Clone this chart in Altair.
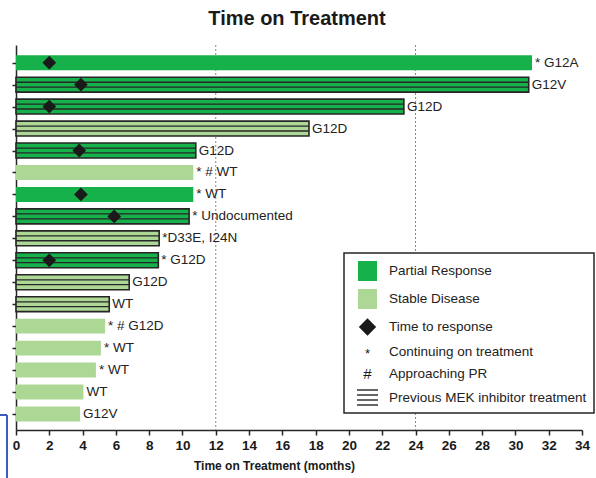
import altair as alt
import pandas as pd

# Patients, top to bottom
patient_row = list(range(17))
months_on_treatment = [31.0, 30.8, 23.3, 17.6, 10.8, 10.65, 10.65, 10.4, 8.6,
                       8.55, 6.8, 5.6, 5.35, 5.1, 4.8, 4.05, 3.85]
best_response = ["PR", "PR", "PR", "SD", "PR", "SD", "PR", "PR", "SD",
                 "PR", "SD", "SD", "SD", "SD", "SD", "SD", "SD"]
previous_mek = [False, True, True, True, True, False, False, True, True,
                True, True, True, False, False, False, False, False]
time_to_response = [2.0, 3.9, 2.0, None, 3.8, None, 3.9, 5.9, None,
                    2.0, None, None, None, None, None, None, None]
bar_labels = ["* G12A", "G12V", "G12D", "G12D", "G12D", "* # WT", "* WT",
              "* Undocumented", "*D33E, I24N", "* G12D", "G12D", "WT",
              "* # G12D", "* WT", "* WT", "WT", "G12V"]
x_ticks = list(range(0, 35, 2))
reference_months = [12, 24]

chart_title = "Time on Treatment"
legend_labels = ["Partial Response", "Stable Disease", "Time to response",
                 "Continuing on treatment", "Approaching PR",
                 "Previous MEK inhibitor treatment"]

PR_GREEN = "#17b14c"
SD_GREEN = "#acd795"
DARK = "#262626"
FONT = "Liberation Sans"

df = pd.DataFrame({
    "row": patient_row,
    "months": months_on_treatment,
    "response": best_response,
    "mek": previous_mek,
    "ttr": time_to_response,
    "label": bar_labels,
})

HALF = 0.34
x_scale = alt.Scale(domain=[0, 34], nice=False, zero=True)
y_scale = alt.Scale(domain=[-0.806, 16.73], nice=False, zero=False, reverse=True)

x_axis = alt.Axis(values=x_ticks, tickCount=len(x_ticks), grid=False,
                  title="Time on Treatment (months)",
                  labelFont=FONT, labelFontWeight="bold", labelFontSize=13.5,
                  labelColor="#1a1a1a", labelPadding=3, labelOverlap=False,
                  labelFlush=False, tickSize=5,
                  tickColor=DARK, tickWidth=1.5, domainColor=DARK, domainWidth=1.5,
                  titleFont=FONT, titleFontWeight="bold", titleFontSize=12,
                  titleColor="#1a1a1a", titleX=258, titleY=30,
                  titleAlign="center", titleBaseline="top")
y_axis = alt.Axis(values=patient_row, labels=False, grid=False, title=None,
                  tickSize=4, tickColor=DARK, tickWidth=1.5,
                  domainColor=DARK, domainWidth=1.5)


def X(field):
    return alt.X(field, scale=x_scale, axis=x_axis)


def Y(field):
    return alt.Y(field, scale=y_scale, axis=y_axis)


base = alt.Chart(df)
color_enc = alt.Color("response:N",
                      scale=alt.Scale(domain=["PR", "SD"], range=[PR_GREEN, SD_GREEN]),
                      legend=None)

grid = alt.Chart(pd.DataFrame({"m": reference_months})).mark_rule(
    color="#8a8a8a", strokeDash=[2, 2], strokeWidth=1
).encode(x=X("m:Q"))

bars_plain = base.transform_filter("!datum.mek").transform_calculate(
    y0=f"datum.row - {HALF}", y1=f"datum.row + {HALF}", x0="0"
).mark_rect().encode(
    x=X("x0:Q"), x2="months:Q", y=Y("y0:Q"), y2="y1:Q", color=color_enc,
)

bars_mek = base.transform_filter("datum.mek").transform_calculate(
    y0=f"datum.row - {HALF}", y1=f"datum.row + {HALF}", x0="0"
).mark_rect(stroke=DARK, strokeWidth=1.6).encode(
    x=X("x0:Q"), x2="months:Q", y=Y("y0:Q"), y2="y1:Q", color=color_enc,
)

stripe_layers = []
for off in (-0.11, 0.11):
    stripe_layers.append(
        base.transform_filter("datum.mek").transform_calculate(
            ys=f"datum.row + ({off})", x0="0"
        ).mark_rule(color=DARK, strokeWidth=1.3).encode(
            x=X("x0:Q"), x2="months:Q", y=Y("ys:Q"),
        )
    )

diamonds = base.transform_filter("isValid(datum.ttr)").mark_point(
    shape="diamond", filled=True, size=190, color="#1a1a1a", opacity=1
).encode(x=X("ttr:Q"), y=Y("row:Q"))

labels = base.mark_text(
    align="left", baseline="middle", dx=3, font=FONT, fontSize=13.5, color="#222222"
).encode(x=X("months:Q"), y=Y("row:Q"), text="label:N")

anchor = alt.Chart(pd.DataFrame({"k": [0]}))

# Chart heading, centred over the plot
heading = anchor.mark_text(
    text=chart_title, font=FONT, fontSize=20, fontWeight="bold", color="#1a1a1a",
    align="center", baseline="alphabetic"
).encode(x=alt.value(281), y=alt.value(-20))

# Key box, drawn in pixel space of the plot area
key_layers = [
    anchor.mark_rect(fill="white", stroke=DARK, strokeWidth=1.5).encode(
        x=alt.value(328), x2=alt.value(578), y=alt.value(208), y2=alt.value(368)),
    anchor.mark_rect(fill=PR_GREEN).encode(
        x=alt.value(342), x2=alt.value(361), y=alt.value(216), y2=alt.value(236)),
    anchor.mark_rect(fill=SD_GREEN).encode(
        x=alt.value(342), x2=alt.value(361), y=alt.value(244), y2=alt.value(264)),
    anchor.mark_point(shape="diamond", filled=True, size=300, color="#1a1a1a",
                      opacity=1).encode(x=alt.value(351.5), y=alt.value(282)),
    anchor.mark_text(text="*", font=FONT, fontSize=13, color="#1a1a1a",
                     align="center", baseline="middle").encode(
        x=alt.value(351.5), y=alt.value(309)),
    anchor.mark_text(text="#", font=FONT, fontSize=15, color="#1a1a1a",
                     align="center", baseline="middle").encode(
        x=alt.value(351.5), y=alt.value(329)),
]
for i in range(4):
    key_layers.append(
        anchor.mark_rule(color=DARK, strokeWidth=1.4).encode(
            x=alt.value(341), x2=alt.value(362), y=alt.value(345 + 5 * i)))
key_text_y = [226, 254, 282, 307, 329, 353]
for txt, ty in zip(legend_labels, key_text_y):
    key_layers.append(
        anchor.mark_text(text=txt, font=FONT, fontSize=13.5, color="#222222",
                         align="left", baseline="middle").encode(
            x=alt.value(373), y=alt.value(ty)))

# Blue corner bracket at the lower left
bracket = [
    anchor.mark_rule(color="#3d5cc2", strokeWidth=2).encode(
        x=alt.value(-16), x2=alt.value(-9), y=alt.value(370)),
    anchor.mark_rule(color="#3d5cc2", strokeWidth=2).encode(
        x=alt.value(-9), y=alt.value(370), y2=alt.value(440)),
]

chart = alt.layer(
    grid, bars_plain, bars_mek, *stripe_layers, diamonds, labels, heading,
    *key_layers, *bracket
).properties(
    width=566,
    height=385,
    autosize=alt.AutoSizeParams(type="none"),
    padding={"left": 16, "top": 45, "right": 14, "bottom": 48},
).configure(background="white").configure_view(stroke=None).configure_axisX(
    labelOverlap=False)

chart.save("out.html", embed_options={"renderer": "svg", "actions": False})
